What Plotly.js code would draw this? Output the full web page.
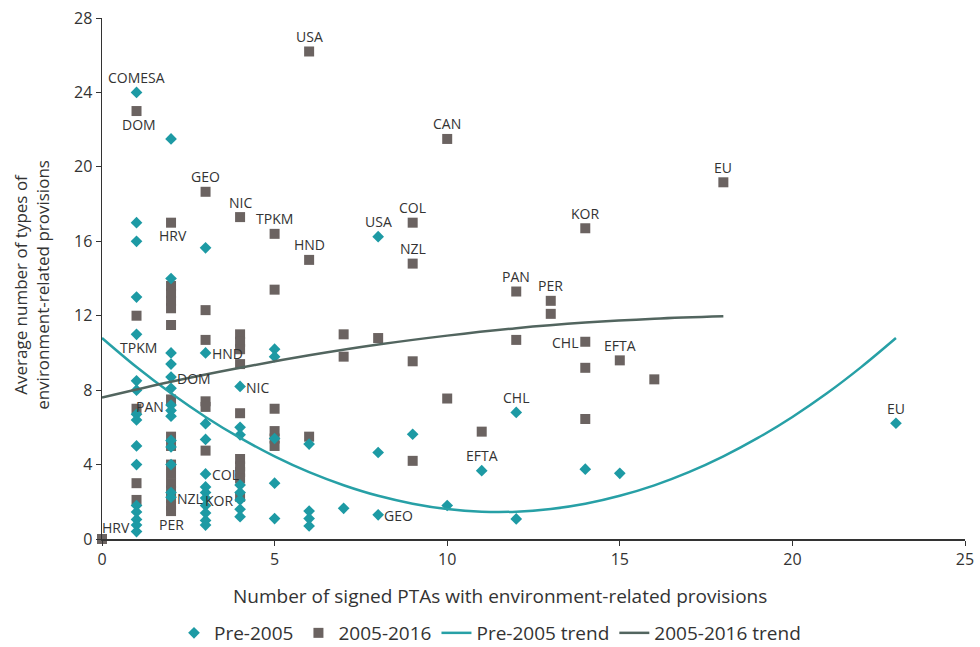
<!DOCTYPE html>
<html>
<head>
<meta charset="utf-8">
<script src="https://cdn.plot.ly/plotly-3.0.1.min.js"></script>
<style>html,body{margin:0;padding:0;background:#fff}#chart{width:980px;height:647px}</style>
</head>
<body>
<div id="chart"></div>
<script>
// ---- Data ----
var preX = [1,1,1,1,1,1,1,1,1,1,1,1,1,1,1,1,
            2,2,2,2,2,2,2,2,2,2,2,2,2,2,
            3,3,3,3,3,3,3,3,3,3,3,3,
            4,4,4,4,4,4,4,4,
            5,5,5,5,5,
            6,6,6,6,
            7,
            8,8,8,
            9,10,11,12,12,14,15,23];
var preY = [24,17,16,13,11,8.5,8,6.7,6.4,5,4,1.8,1.45,1.05,0.75,0.4,
            21.5,14,10,9.4,8.7,8.1,7.2,6.9,6.6,5.3,4.95,4.0,2.5,2.25,
            15.65,10.0,6.2,5.35,3.5,2.8,2.5,2.2,1.8,1.4,1.0,0.75,
            8.2,6.0,5.6,2.9,2.5,2.1,1.6,1.2,
            10.2,9.8,5.4,3.0,1.1,
            5.1,1.5,1.1,0.7,
            1.65,
            16.25,4.65,1.3,
            5.63,1.8,3.67,6.8,1.08,3.75,3.53,6.22];
var preLabel = ["COMESA","","","","TPKM","","","","","","","","","","","",
                "","","","","DOM","","PAN","","","","","","PER","NZL",
                "","HND","","","COL","","","","","","","",
                "NIC","","","","","KOR","","",
                "","","","","",
                "","","","",
                "",
                "USA","","GEO",
                "","","EFTA","CHL","","","","EU"];
var prePos = ["t","","","","b","","","","","","","","","","","",
              "","","","","r","","l","","","","","","bb","r",
              "","r","","","r","","","","","","","",
              "r","","","","","l","","",
              "","","","","",
              "","","","",
              "",
              "t","","r",
              "","","t","t","","","","t"];

var postX = [0,
             1,1,1,1,1,
             2,2,2,2,2,2,2,2,2,2,2,2,2,2,2,2,
             3,3,3,3,3,3,
             4,4,4,4,4,4,4,4,4,4,4,
             5,5,5,5,5,5,
             6,6,6,
             7,7,
             8,
             9,9,9,9,
             10,10,
             11,
             12,12,
             13,13,
             14,14,14,14,
             15,16,18];
var postY = [0,
             23,12,7,3,2.1,
             17,13.6,13.2,12.8,12.4,11.5,7.5,5.5,5.0,4.0,3.5,3.0,2.6,2.2,1.8,1.5,
             18.66,12.3,10.7,7.4,7.1,4.75,
             17.3,11.0,10.6,10.2,9.4,6.76,4.3,3.9,3.6,3.25,2.27,
             16.4,13.4,7.0,5.8,5.4,5.0,
             26.2,15.0,5.5,
             11.0,9.8,
             10.8,
             17.0,14.8,9.55,4.2,
             21.5,7.55,
             5.77,
             13.3,10.7,
             12.8,12.1,
             16.7,10.6,9.2,6.45,
             9.6,8.58,19.17];
var postLabel = ["HRV",
                 "DOM","","","","",
                 "HRV","","","","","","","","","","","","","","","",
                 "GEO","","","","","",
                 "NIC","","","","","","","","","","",
                 "TPKM","","","","","",
                 "USA","HND","",
                 "","",
                 "",
                 "COL","NZL","","",
                 "CAN","",
                 "",
                 "PAN","",
                 "PER","",
                 "KOR","CHL","","",
                 "EFTA","","EU"];
var postPos = ["tr",
               "b","","","","",
               "b","","","","","","","","","","","","","","","",
               "t","","","","","",
               "t","","","","","","","","","","",
               "t","","","","","",
               "t","t","",
               "","",
               "",
               "t","t","","",
               "t","",
               "",
               "t","",
               "t","",
               "t","l","","",
               "t","","t"];

// trend curves
var preTrendX = [0,1,2,3,4,5,6,7,8,9,10,11,12,13,14,15,16,17,18,19,20,21,22,23];
var preTrendY = [10.8,9.24,7.83,6.56,5.43,4.44,3.59,2.89,2.32,1.90,1.61,1.47,1.47,1.61,1.89,2.32,2.88,3.59,4.44,5.43,6.56,7.83,9.25,10.8];
var postTrendX = [0,2,4,6,8,10,12,14,16,18];
var postTrendY = [7.6,8.45,9.2,9.87,10.45,10.93,11.33,11.63,11.84,11.97];

var xTicks = [0,5,10,15,20,25];
var yTicks = [0,4,8,12,16,20,24,28];
var xTitle = 'Number of signed PTAs with environment-related provisions';
var yTitle = 'Average number of types of<br>environment-related provisions';

// ---- Styles ----
var TEAL = '#1d9aa4';
var GREY = '#6b6361';
var TEAL_LINE = '#27a0a6';
var GREY_LINE = '#52655f';
var FONT = 'Open Sans, sans-serif';
var TXT = '#333333';

var placement = {
  t:  {xs:0,  ys:15,  xa:'center'},
  b:  {xs:2,  ys:-13, xa:'center'},
  r:  {xs:4,  ys:-1,  xa:'left'},
  l:  {xs:-5, ys:-1,  xa:'right'},
  bb: {xs:0,  ys:-32, xa:'center'},
  tr: {xs:14, ys:12,  xa:'center'}
};

var annotations = [];
function addLabels(xs, ys, labels, pos) {
  for (var i = 0; i < labels.length; i++) {
    if (!labels[i]) continue;
    var p = placement[pos[i]];
    annotations.push({
      x: xs[i], y: ys[i], xref: 'x', yref: 'y', text: labels[i], showarrow: false,
      xanchor: p.xa, yanchor: 'middle', xshift: p.xs, yshift: p.ys,
      font: {family: FONT, size: 14, color: TXT}
    });
  }
}
addLabels(preX, preY, preLabel, prePos);
addLabels(postX, postY, postLabel, postPos);

// axis titles (placed as in the reference, slightly off the plot centre)
annotations.push({xref:'paper', yref:'paper', x:0.461, y:-0.11, xanchor:'center', yanchor:'middle',
  text:xTitle, showarrow:false, font:{family:FONT, size:19, color:TXT}});
annotations.push({xref:'paper', yref:'paper', x:-0.081, y:0.488, xanchor:'center', yanchor:'middle',
  textangle:-90, text:yTitle, showarrow:false, font:{family:FONT, size:17, color:TXT}});

var traces = [
  {type:'scatter', mode:'markers', name:'2005-2016', x:postX, y:postY, legendrank:2,
   marker:{symbol:'square', size:10, color:GREY}, cliponaxis:false},
  {type:'scatter', mode:'markers', name:'Pre-2005', x:preX, y:preY, legendrank:1,
   marker:{symbol:'diamond', size:9, color:TEAL}, cliponaxis:false},
  {type:'scatter', mode:'lines', name:'Pre-2005 trend', x:preTrendX, y:preTrendY, legendrank:3,
   line:{color:TEAL_LINE, width:2.5, shape:'spline'}},
  {type:'scatter', mode:'lines', name:'2005-2016 trend', x:postTrendX, y:postTrendY, legendrank:4,
   line:{color:GREY_LINE, width:2.5, shape:'spline'}}
];

var layout = {
  width: 980, height: 647,
  margin: {l:102, r:15, t:18, b:108},
  paper_bgcolor:'#fff', plot_bgcolor:'#fff',
  font: {family: FONT, color: TXT, size: 15},
  showlegend: true,
  legend: {orientation:'h', xref:'container', yref:'container', x:0.5, xanchor:'center',
           y:14/647, yanchor:'middle',
           font:{family:FONT, size:19, color:TXT}, traceorder:'normal', itemwidth:30},
  xaxis: {range:[0,25], tickvals:xTicks, ticks:'outside', ticklen:5, tickcolor:'#333',
          showline:true, linecolor:'#333', linewidth:1.5, showgrid:false, zeroline:false,
          tickfont:{size:16, color:TXT}},
  yaxis: {range:[0,28], tickvals:yTicks, ticks:'outside', ticklen:5, tickcolor:'#333',
          showline:true, linecolor:'#333', linewidth:1.5, showgrid:false, zeroline:false,
          tickfont:{size:16, color:TXT}},
  annotations: annotations
};

Plotly.newPlot('chart', traces, layout, {displayModeBar:false, staticPlot:true});
</script>
</body>
</html>
